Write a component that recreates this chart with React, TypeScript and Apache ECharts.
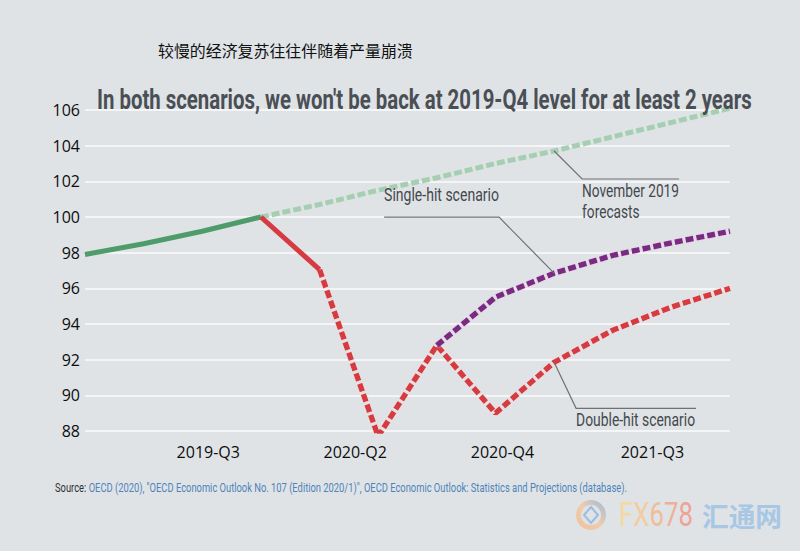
import React, { useEffect, useRef } from "react";
import * as echarts from "echarts";

// ---------- data ----------
const quarters = [
  "2019-Q1", "2019-Q2", "2019-Q3", "2019-Q4",
  "2020-Q1", "2020-Q2", "2020-Q3", "2020-Q4",
  "2021-Q1", "2021-Q2", "2021-Q3", "2021-Q4",
];
const xTickLabels = ["2019-Q3", "2020-Q2", "2020-Q4", "2021-Q3"];
const yMin = 88;
const yMax = 106;
const yStep = 2;

const historicalGdp = [97.9, 98.5, 99.2, 100.0, null, null, null, null, null, null, null, null];
const historicalDrop = [null, null, null, 100.0, 97.05, null, null, null, null, null, null, null];
const november2019Forecast = [null, null, null, 100.0, 100.7, 101.5, 102.2, 103.0, 103.7, 104.5, 105.3, 106.1];
const doubleHit = [null, null, null, null, 97.05, 87.7, 92.8, 89.0, 91.85, 93.65, 94.95, 96.0];
const singleHit = [null, null, null, null, null, null, 92.8, 95.5, 96.85, 97.85, 98.55, 99.2];

const subtitleText = "较慢的经济复苏往往伴随着产量崩溃";
const titleText = "In both scenarios, we won't be back at 2019-Q4 level for at least 2 years";
const sourceLead = "Source:";
const sourceBody =
  "OECD (2020), \"OECD Economic Outlook No. 107 (Edition 2020/1)\", OECD Economic Outlook: Statistics and Projections (database).";
const singleHitLabel = "Single-hit scenario";
const doubleHitLabel = "Double-hit scenario";
const forecastLabel = ["November 2019", "forecasts"];
const watermarkLatin = "FX678";
const watermarkCjk = "汇通网";

// ---------- style ----------
const BG = "#dfe3e6";
const NARROW = "'Liberation Sans Narrow', Roboto, sans-serif";
const AXIS_FONT = "'Open Sans', 'Noto Sans', sans-serif";
// per-label horizontal nudge (px) to match the original's tick label placement
const xLabelNudge = [6, -23, 7, -19];
const watermarkColors = ["#f3d8a0", "#f2cd9d", "#f1bd99", "#efb098", "#eea396"];

function measure(text: string, font: string): number {
  const c = document.createElement("canvas").getContext("2d")!;
  c.font = font;
  return c.measureText(text).width;
}

export default function App() {
  const ref = useRef<HTMLDivElement>(null);

  useEffect(() => {
    const el = ref.current!;
    const chart = echarts.init(el, null, { renderer: "svg" });

    const rich: Record<string, any> = {};
    xTickLabels.forEach((_, k) => {
      const n = xLabelNudge[k];
      rich["n" + k] = {
        fontSize: 16,
        fontFamily: AXIS_FONT,
        color: "#0d0d0d",
        padding: n >= 0 ? [0, 0, 0, 2 * n] : [0, -2 * n, 0, 0],
      };
    });

    const lineBase = { type: "line" as const, showSymbol: false, symbol: "none", smooth: false, connectNulls: false };

    chart.setOption({
      animation: false,
      backgroundColor: BG,
      grid: { left: 85, right: 70, top: 110, bottom: 120 },
      xAxis: {
        type: "category",
        data: quarters,
        boundaryGap: false,
        axisLine: { show: false },
        axisTick: { show: false },
        splitLine: { show: false },
        axisLabel: {
          interval: (_i: number, v: string) => xTickLabels.includes(v),
          formatter: (v: string) => {
            const k = xTickLabels.indexOf(v);
            return k >= 0 ? `{n${k}|${v}}` : "";
          },
          rich,
          margin: 13,
          fontSize: 16,
          fontFamily: AXIS_FONT,
          color: "#0d0d0d",
        },
      },
      yAxis: {
        type: "value",
        min: yMin,
        max: yMax,
        interval: yStep,
        axisLine: { show: false },
        axisTick: { show: false },
        axisLabel: { fontSize: 16, fontFamily: AXIS_FONT, color: "#0d0d0d", margin: 5 },
        splitLine: { lineStyle: { color: "#f3f5f6", width: 2 } },
      },
      series: [
        {
          ...lineBase,
          name: "November 2019 forecasts",
          data: november2019Forecast,
          lineStyle: { color: "#a6cfb2", width: 5, type: [8, 3] },
          z: 2,
        },
        {
          ...lineBase,
          name: "Historical",
          data: historicalGdp,
          lineStyle: { color: "#4f9c6b", width: 5 },
          z: 3,
        },
        {
          ...lineBase,
          name: "Double-hit scenario",
          data: doubleHit,
          lineStyle: {
            color: "#d63a42",
            width: 5.5,
            type: [8, 3],
            shadowColor: "rgba(255,215,215,0.9)",
            shadowBlur: 2,
          },
          z: 4,
        },
        {
          ...lineBase,
          name: "Historical drop",
          data: historicalDrop,
          lineStyle: { color: "#d63a42", width: 5 },
          z: 4,
        },
        {
          ...lineBase,
          name: "Single-hit scenario",
          data: singleHit,
          lineStyle: {
            color: "#7a2a80",
            width: 5.5,
            type: [8, 3],
            shadowColor: "rgba(240,190,240,0.9)",
            shadowBlur: 2,
          },
          z: 5,
        },
      ],
    });

    const toPx = (i: number, v: number) =>
      chart.convertToPixel({ xAxisIndex: 0, yAxisIndex: 0 }, [i, v]) as number[];

    const annFont = `18px ${NARROW}`;
    const annColor = "#44484d";
    const leader = { stroke: "#6f7275", lineWidth: 1.2, fill: "none" };

    const text = (
      x: number,
      y: number,
      t: string,
      font: string,
      fill: any,
      targetWidth: number | null,
      extra: Record<string, any> = {},
      measureText?: string
    ) => {
      const w = measure(measureText ?? t.split("\n")[0], font);
      const s = targetWidth ? targetWidth / w : 1;
      return {
        type: "text",
        x,
        y,
        scaleX: s,
        silent: true,
        z: 100,
        style: {
          text: t,
          font,
          fill,
          align: "left",
          verticalAlign: "middle",
          textAlign: "left",
          textVerticalAlign: "middle",
          ...extra,
        },
      };
    };

    const sIdx = 8;
    const pSingle = toPx(sIdx, singleHit[sIdx] as number);
    const pForecast = toPx(sIdx, november2019Forecast[sIdx] as number);
    const pDouble = toPx(sIdx, doubleHit[sIdx] as number);

    const srcFont = `12px ${NARROW}`;
    const srcScale = 573 / measure(sourceLead + " " + sourceBody, srcFont);
    const leadW = measure(sourceLead + " ", srcFont) * srcScale;

    const titleFont = `bold 27px ${NARROW}`;

    const wmFont = `33px ${NARROW}`;
    const wmRich: Record<string, any> = {};
    watermarkLatin.split("").forEach((_, k) => {
      wmRich["c" + k] = { font: wmFont, fill: watermarkColors[k], color: watermarkColors[k] };
    });
    const wmText = watermarkLatin
      .split("")
      .map((ch, k) => `{c${k}|${ch}}`)
      .join("");

    const graphic: any[] = [
      text(158, 50, subtitleText, "16px 'Noto Sans CJK SC', sans-serif", "#111", 255),
      text(97, 100, titleText, titleFont, "#4a4f55", 655),
      // single-hit annotation
      {
        type: "polyline",
        silent: true,
        z: 90,
        shape: {
          points: [
            [pSingle[0], pSingle[1]],
            [pSingle[0] - 55, pSingle[1] - 56],
            [pSingle[0] - 170, pSingle[1] - 56],
          ],
        },
        style: leader,
      },
      text(pSingle[0] - 170, pSingle[1] - 78, singleHitLabel, annFont, annColor, 115),
      // forecast annotation
      {
        type: "polyline",
        silent: true,
        z: 90,
        shape: {
          points: [
            [pForecast[0], pForecast[1]],
            [pForecast[0] + 28, pForecast[1] + 28],
            [pForecast[0] + 125, pForecast[1] + 28],
          ],
        },
        style: leader,
      },
      text(pForecast[0] + 28, pForecast[1] + 29, forecastLabel.join("\n"), annFont, annColor, 97, {
        verticalAlign: "top",
        textVerticalAlign: "top",
        lineHeight: 21,
      }),
      // double-hit annotation
      {
        type: "polyline",
        silent: true,
        z: 90,
        shape: {
          points: [
            [pDouble[0], pDouble[1]],
            [pDouble[0] + 22, pDouble[1] + 46],
            [pDouble[0] + 142, pDouble[1] + 46],
          ],
        },
        style: leader,
      },
      text(pDouble[0] + 22, pDouble[1] + 57, doubleHitLabel, annFont, annColor, 119),
      // source
      { ...text(55, 488, sourceLead, srcFont, "#2e3135", null), scaleX: srcScale },
      { ...text(55 + leadW, 488, sourceBody, srcFont, "#4f83b9", null), scaleX: srcScale },
      // watermark
      {
        type: "ring",
        silent: true,
        z: 80,
        shape: { cx: 591, cy: 515, r: 15, r0: 10 },
        style: {
          fill: {
            type: "linear",
            x: 0, y: 1, x2: 1, y2: 0,
            colorStops: [
              { offset: 0, color: "#f4b98c" },
              { offset: 0.5, color: "#f0c9a4" },
              { offset: 1, color: "#8db2dc" },
            ],
          },
          opacity: 0.85,
        },
      },
      {
        type: "polygon",
        silent: true,
        z: 81,
        shape: { points: [[591, 507], [598, 515], [591, 523], [584, 515]] },
        style: { fill: "none", stroke: "#9dbce0", lineWidth: 2 },
      },
      text(619, 515, wmText, wmFont, watermarkColors[2], 74, { rich: wmRich }, watermarkLatin),
      text(702, 515, watermarkCjk, "bold 27px 'Noto Sans CJK SC', sans-serif", "#a8c7e5", 80),
    ];

    chart.setOption({ graphic });

    return () => chart.dispose();
  }, []);

  return (
    <div
      ref={ref}
      style={{ position: "fixed", left: 0, top: 0, width: 800, height: 551, background: BG }}
    />
  );
}
